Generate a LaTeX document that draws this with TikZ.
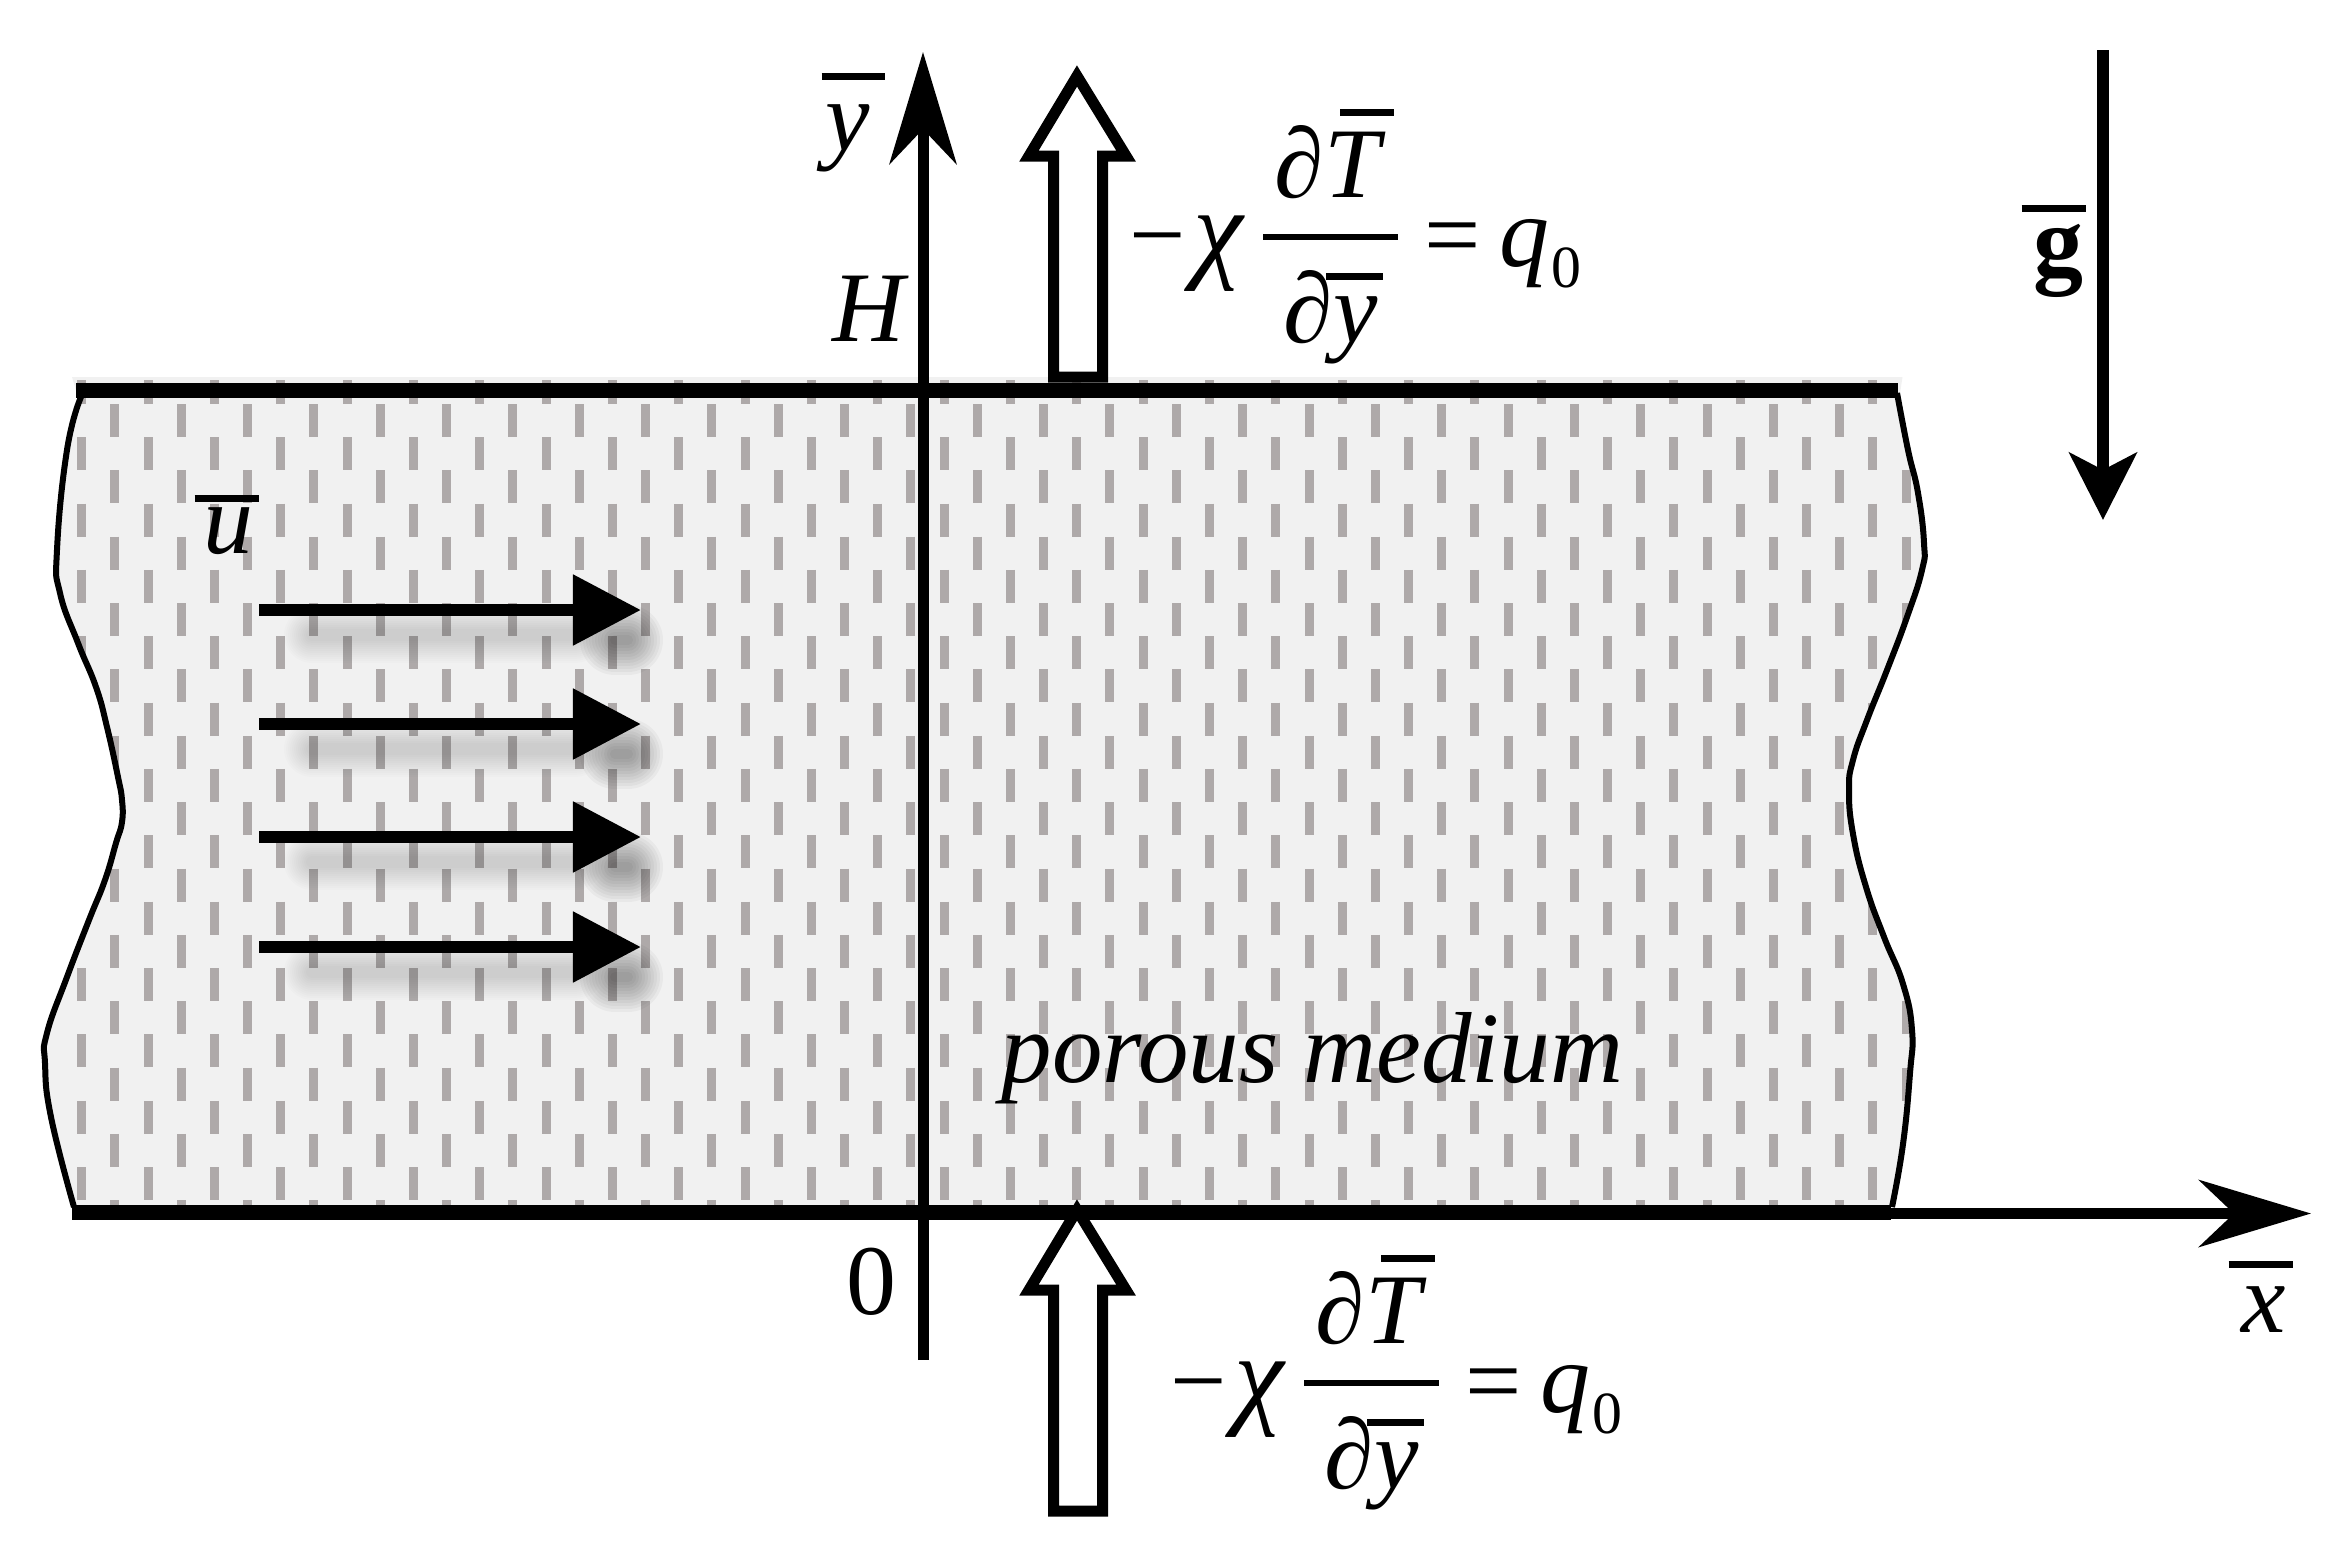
\documentclass[tikz,border=0pt]{standalone}
\usepackage{fontspec}
\setmainfont{Liberation Serif}
\usetikzlibrary{arrows.meta}
\definecolor{mediumfill}{HTML}{F1F1F1}
\definecolor{poregray}{HTML}{AEA9A9}
% bar over a letter: left offset, height, width, letter
\newcommand\barred[4]{\rlap{\kern#1cm\rule[#2cm]{#3cm}{0.065cm}}#4}
\tikzset{
    lbl/.style={inner sep=0pt, anchor=base west, font=\fontsize{28.4}{34}\selectfont\itshape},
    axisline/.style={line width=0.11cm, -{Stealth[length=1.12cm,width=0.67cm,inset=0.35cm]}},
    gravline/.style={line width=0.12cm, -{Stealth[length=0.67cm,width=0.67cm,inset=0.17cm]}},
    flowline/.style={line width=0.12cm, -{Triangle[length=0.68cm,width=0.68cm]}},
    wall/.style={line width=0.15cm},
    edgeline/.style={line width=0.06cm},
    poredash/.style={poregray, line width=0.09cm, dash pattern=on 0.33cm off 0.3332cm},
    shadowbar/.style={black, opacity=0.012, line cap=round},
    shadowhead/.style={black, opacity=0.035, line cap=round},
    heatarrow/.style={draw, fill=white, line width=0.11cm, miter limit=10},
    fracbar/.style={line width=0.06cm}
}
\begin{document}
\begin{tikzpicture}[x=0.01cm, y=-0.01cm]
    \useasboundingbox (0,0) rectangle (2339,1557);

    % Porous layer
    \begin{scope}
        \path[save path=\mediumpath] (76,380) -- (1899,380) -- (1897,393)
            -- plot[smooth, tension=0.8] coordinates {(1897,393) (1908,450) (1918,493) (1924,543) (1922,570) (1907,617) (1887,670) (1867,720) (1853,760) (1849,790) (1853,834) (1866,887) (1884,937) (1903,984) (1912,1030) (1910,1073) (1903,1144) (1892,1207)}
            -- (74,1207)
            -- plot[smooth, tension=0.8] coordinates {(74,1207) (51,1117) (45,1063) (47,1033) (67,977) (89,920) (105,880) (116,843) (122,822) (122,800) (118,777) (107,727) (96,687) (78,643) (60,593) (57,550) (67,450) (81,397)}
            -- cycle;
        \fill[mediumfill, draw=mediumfill, line width=0.06cm, use path=\mediumpath];
        \clip[use path=\mediumpath];
        \foreach \k in {0,...,55} {
            \pgfmathsetmacro{\colx}{81.7+33.17*\k}
            \pgfmathsetmacro{\coly}{isodd(\k) ? 404 : 370.8}
            \draw[poredash] (\colx,\coly) -- (\colx,1230);
        }
    \end{scope}
    \draw[edgeline] plot[smooth, tension=0.8] coordinates {(1897,393) (1908,450) (1918,493) (1924,543) (1922,570) (1907,617) (1887,670) (1867,720) (1853,760) (1849,790) (1853,834) (1866,887) (1884,937) (1903,984) (1912,1030) (1910,1073) (1903,1144) (1892,1207)};
    \draw[edgeline] plot[smooth, tension=0.8] coordinates {(74,1207) (51,1117) (45,1063) (47,1033) (67,977) (89,920) (105,880) (116,843) (122,822) (122,800) (118,777) (107,727) (96,687) (78,643) (60,593) (57,550) (67,450) (81,397)};

    % Flow arrows with soft shadows
    \foreach \ya in {610,724,837,947} {
        \begin{scope}[shift={(0,\ya)}]
            \foreach \w in {56,52,48,44,40,36,32,28,24,20,16,12}
                \draw[shadowbar, line width=\w*0.01cm] (312,25) -- (575,25);
            \foreach \w in {70,64,58,52,46,40,34,28,22,16,10}
                \draw[shadowhead, line width=\w*0.01cm] (615,30) -- (628,30);
        \end{scope}
    }
    \foreach \ya [count=\i] in {610,724,837,947} {
        \coordinate (u\i a) at (259,\ya);
        \coordinate (u\i b) at (641,\ya);
        \draw[flowline] (u\i a) -- (u\i b);
    }

    % Walls and axes
    \coordinate (topl) at (76,390);
    \coordinate (topr) at (1898,390);
    \coordinate (botl) at (72,1212);
    \coordinate (botr) at (1891,1212);
    \coordinate (xstart) at (555,1213.5);
    \coordinate (xend) at (2311,1213.5);
    \coordinate (ystart) at (923,1360);
    \coordinate (yend) at (923,52);
    \coordinate (gstart) at (2103,50);
    \coordinate (gend) at (2103,520);
    \draw[wall] (topl) -- (topr);
    \draw[wall] (botl) -- (botr);
    \draw[axisline] (xstart) -- (xend);
    \draw[axisline] (ystart) -- (yend);
    \draw[gravline] (gstart) -- (gend);

    % Heat flux arrows and their labels
    \foreach \dx/\dy/\name in {0/0/top, 41/1146/bot} {
        \begin{scope}[shift={(\dx,\dy)}]
            \node[lbl, font=\fontsize{28.4}{34}\selectfont] (\name minus) at (1129,268) {−};
            \node[lbl, font=\fontsize{32}{38}\selectfont\itshape] (\name chi) at (1193,267) {χ};
            \node[lbl] (\name num) at (1274,197) {∂\barred{0.16}{0.81}{0.54}{T}};
            \node[lbl] (\name den) at (1283,342) {∂\barred{-0.07}{0.62}{0.57}{y}};
            \node[lbl, font=\fontsize{28.4}{34}\selectfont] (\name eq) at (1424,268) {=};
            \node[lbl] (\name q) at (1499,266) {q};
            \node[lbl, font=\fontsize{17}{20}\selectfont] (\name zero) at (1551,287) {0};
            \coordinate (\name fl) at (1263,237);
            \coordinate (\name fr) at (1398,237);
            \draw[fracbar] (\name fl) -- (\name fr);
        \end{scope}
    }
    \draw[heatarrow] (1053.5,377) -- (1102.5,377) -- (1102.5,156) -- (1126,156) -- (1077,76) -- (1029,156) -- (1053.5,156) -- cycle;
    \draw[heatarrow] (1053.5,1511) -- (1102.5,1511) -- (1102.5,1290) -- (1126,1290) -- (1077,1210) -- (1029,1290) -- (1053.5,1290) -- cycle;

    % Labels
    \node[lbl] (ylabel) at (825,150) {\barred{-0.04}{0.70}{0.63}{y}};
    \node[lbl] (hlabel) at (832,341) {H};
    \node[lbl, font=\fontsize{28.4}{34}\selectfont] (zerolabel) at (846,1314) {0};
    \node[lbl] (xlabel) at (2241,1332) {\barred{-0.13}{0.64}{0.64}{x}};
    \node[lbl] (ulabel) at (203,553) {\barred{-0.09}{0.51}{0.64}{u}};
    \node[lbl, font=\fontsize{28.4}{34}\selectfont\bfseries] (glabel) at (2033,275) {\barred{-0.12}{0.63}{0.64}{g}};
    \node[lbl, font=\fontsize{28.7}{34}\selectfont\itshape] (mediumlabel) at (1001,1082) {porous medium};
\end{tikzpicture}
\end{document}
